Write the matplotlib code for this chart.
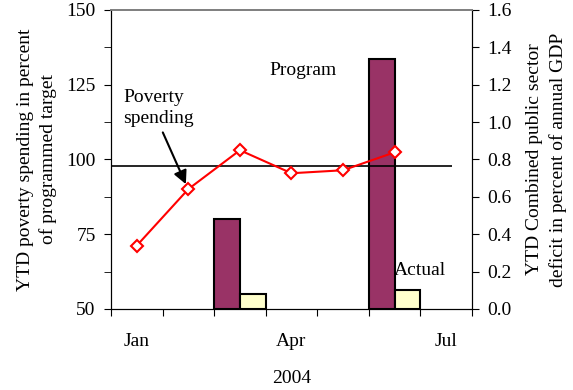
import numpy as np
import matplotlib.pyplot as plt

plt.rcParams['font.family'] = ['Liberation Serif', 'DejaVu Serif']
plt.rcParams['font.size'] = 14

# Months of 2004 (the chart axis runs Jan..Jul)
months = ['Jan', 'Feb', 'Mar', 'Apr', 'May', 'Jun', 'Jul']
# YTD poverty spending, percent of programmed target (Jan..Jun)
poverty = [71.2, 90.1, 103.1, 95.4, 96.4, 102.4]
# YTD combined public sector deficit, percent of annual GDP
program = [np.nan, np.nan, 0.48, np.nan, np.nan, 1.34, np.nan]
actual = [np.nan, np.nan, 0.08, np.nan, np.nan, 0.10, np.nan]
target_line = 97.8

x = np.arange(len(months))

fig = plt.figure(figsize=(5.73, 3.9), dpi=100)
ax = fig.add_axes([0.1937, 0.2077, 0.63, 0.7667])
ax2 = ax.twinx()

# bars on the right axis, behind the line
ax2.bar(x - 0.25, program, width=0.5, color='#993366', edgecolor='black', lw=1.5)
ax2.bar(x + 0.25, actual, width=0.5, color='#FFFFCC', edgecolor='black', lw=1.5)
ax2.set_ylim(0, 1.6)
ax2.set_yticks(np.arange(0, 1.61, 0.2))
ax2.set_yticklabels(['%.1f' % v for v in np.arange(0, 1.61, 0.2)])
ax2.set_ylabel('YTD Combined public sector\ndeficit in percent of annual GDP', linespacing=1.4)
ax2.yaxis.set_label_coords(1.15, 0.5)

ax.set_zorder(ax2.get_zorder() + 1)
ax.patch.set_visible(False)

ax.hlines(target_line, -0.5, 6.12, color='black', lw=1.2)
ax.plot(x[:len(poverty)], poverty, color='red', lw=1.5, marker='D', ms=6.5,
        mfc='white', mec='red', mew=1.5)

ax.set_xlim(-0.5, 6.5)
ax.set_ylim(50, 150)
ax.set_yticks([50, 75, 100, 125, 150])
ax.set_yticks(np.arange(62.5, 150, 25), minor=True)
ax.set_ylabel('YTD poverty spending in percent\nof programmed target', linespacing=1.4)
ax.yaxis.set_label_coords(-0.149, 0.5)

# ticks at month boundaries, labels every quarter
ax.set_xticks(np.arange(-0.5, 7, 1))
ax.set_xticklabels([])
ax.set_xticks([0, 3, 6], minor=True)
ax.set_xticklabels([months[0], months[3], months[6]], minor=True)
ax.tick_params(axis='x', which='minor', length=0, pad=17)
ax.tick_params(axis='x', which='major', length=5, direction='out')
ax.set_xlabel('2004', labelpad=15)

ax.tick_params(axis='y', which='both', length=5, direction='out', pad=6)
ax2.tick_params(axis='y', length=5, direction='out', pad=6)

for a in (ax, ax2):
    a.spines['top'].set_color('#808080')
    a.spines['top'].set_linewidth(1.3)

ax.text(3.22, 129.9, 'Program', ha='center', va='center')
ax.text(5.49, 63.0, 'Actual', ha='center', va='center')
ax.text(-0.267, 117.2, 'Poverty\nspending', ha='left', va='center', linespacing=1.35)
ax.annotate('', xy=(0.974, 90.9), xytext=(0.483, 109.9),
            arrowprops=dict(arrowstyle='-|>', color='black', lw=1.5, mutation_scale=20))

fig.savefig('out.png', dpi=100)
